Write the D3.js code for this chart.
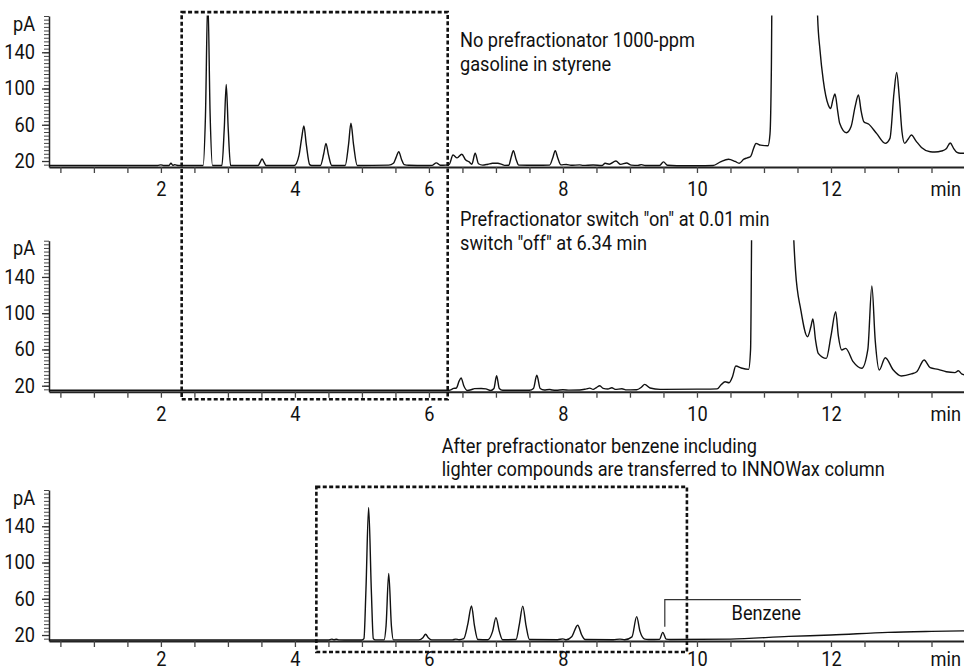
<!DOCTYPE html>
<html><head><meta charset="utf-8">
<script src="https://cdn.jsdelivr.net/npm/d3@7"></script>
<style>
body{margin:0;background:#fff}
text{font-family:Roboto,"Liberation Sans",sans-serif;fill:#111}
</style>
</head><body>
<svg id="chart" width="964" height="671"></svg>
<script>
// ---------- data (time in min, signal in pA) ----------
const xTickLabels = [2, 4, 6, 8, 10, 12];
const yTickLabels = [20, 60, 100, 140];

const trace1 = [[0.33,15],[1.95,15],[2.0,15.8],[2.04,15],[2.12,15],[2.15,17.5],[2.18,15.2],[2.2,16],[2.23,15.5],[2.26,15],
 [2.63,15],[2.665,70],[2.70,200],[2.735,70],[2.77,15],
 [2.91,15],[2.945,55],[2.975,104.6],[3.005,55],[3.04,15],
 [3.45,15],[3.48,18.5],[3.51,22.2],[3.54,18.5],[3.57,15],
 [3.99,15],[4.06,26],[4.10,45],[4.134,58.6],[4.17,38],[4.22,16],[4.25,15],
 [4.38,15],[4.43,28],[4.463,39.5],[4.50,27],[4.55,15],
 [4.75,15],[4.80,38],[4.836,61.6],[4.875,38],[4.93,15],
 [5.40,15.5],[5.47,17.5],[5.51,24],[5.55,30.3],[5.59,22],[5.63,16],[5.70,15.3],
 [5.95,15],[6.05,15.2],[6.11,18],[6.17,15.3],[6.25,15.5],
 [6.30,16],[6.36,26.6],[6.42,23.5],[6.49,27.4],[6.55,21],[6.60,19],[6.64,16.5],[6.69,28.5],[6.74,17],[6.80,15.5],
 [6.88,16.5],[6.95,17.5],[7.03,17.5],[7.08,16.5],[7.13,15.2],
 [7.19,15.3],[7.23,25],[7.26,31.4],[7.30,22],[7.34,15.5],
 [7.60,15.3],[7.80,15.5],[7.85,24],[7.885,31.4],[7.92,24],[7.97,15.8],[8.05,16.2],[8.12,15.3],[8.25,15.7],[8.30,15.2],[8.45,15.6],
 [8.58,15],[8.63,17.5],[8.69,16.5],[8.79,20],[8.86,16.3],[8.95,17.8],[9.02,15.5],[9.12,15.2],[9.17,16],[9.23,15],
 [9.44,15],[9.50,19],[9.56,15.3],[9.70,14.8],[10.0,14.8],[10.24,15],[10.35,19],[10.47,21.9],[10.57,19.5],[10.63,17.5],
 [10.70,22],[10.75,23.5],[10.80,25],[10.85,35],[10.88,39.5],[10.95,37.5],[11.06,36.9],[11.09,50],[11.11,120],[11.13,300],
 [11.78,300],[11.80,180],[11.836,142.4],[11.885,109],[11.96,81.8],[11.995,78],[12.03,88],[12.06,93.9],[12.10,75],[12.13,61.6],
 [12.23,51.2],[12.30,58],[12.36,80],[12.41,92.8],[12.45,75],[12.49,63.4],[12.56,60.8],[12.68,50.5],[12.81,39.5],
 [12.88,45],[12.94,95],[12.98,117.6],[13.02,90],[13.06,52],[13.10,39.5],[13.15,44],[13.20,48.7],[13.27,42],[13.35,35],
 [13.48,30.3],[13.55,30],[13.65,31],[13.72,33.5],[13.78,39.9],[13.83,34],[13.88,29.5],[13.93,28.5],[14.0,28.5]];

const trace2 = [[0.33,15],[6.30,15],[6.37,17],[6.41,17.5],[6.45,25],[6.48,28.5],[6.52,20],[6.57,14.8],[6.63,15.5],[6.68,16.8],
 [6.78,17],[6.85,16.5],[6.92,14.8],[6.97,17],[7.01,31],[7.05,17],[7.10,15],[7.50,15],[7.56,17],[7.61,31.5],[7.66,17],
 [7.72,15.2],[7.80,15.8],[7.84,15.3],[7.90,15],[8.00,15.5],[8.10,15.1],[8.25,15.2],[8.35,16.5],[8.40,17.3],[8.45,16],
 [8.50,18],[8.55,20],[8.60,17],[8.67,16.3],[8.73,17.8],[8.78,16],[8.88,16.6],[8.95,15.4],[9.10,15.5],[9.17,18.3],
 [9.22,21.5],[9.30,17.5],[9.45,16],[10.0,16.2],[10.30,16.5],[10.36,21],[10.42,24.4],[10.48,23.3],[10.53,30],[10.58,41.7],
 [10.66,39.5],[10.77,38],[10.80,60],[10.83,300],[11.40,300],[11.44,190],[11.47,147.6],[11.55,103.5],[11.65,74],[11.70,85],
 [11.73,93.6],[11.77,70],[11.81,55.7],[11.93,50.2],[12.00,75],[12.07,101.6],[12.11,75],[12.16,59.4],[12.22,61.2],
 [12.33,46.5],[12.46,39.2],[12.55,60],[12.61,130],[12.66,70],[12.72,37.3],[12.81,50.9],[12.93,37.3],[13.05,30.7],
 [13.20,33],[13.28,35.4],[13.39,48.4],[13.48,39.9],[13.60,38],[13.72,35.4],[13.85,34.5],[13.90,36.5],[13.95,33],[14.0,31.8]];

const trace3 = [[0.33,14.5],[4.50,14.5],[4.55,15.5],[4.58,14.8],[4.62,15.3],[4.66,14.6],[5.00,14.5],[5.03,16],[5.06,70],
 [5.10,160.8],[5.14,70],[5.17,16],[5.20,14.6],[5.33,14.6],[5.36,30],[5.40,88],[5.44,30],[5.47,14.6],[5.85,14.6],[5.91,17],
 [5.95,20.8],[5.99,17],[6.04,14.6],[6.35,14.6],[6.40,15.5],[6.45,14.8],[6.52,16],[6.58,32],[6.635,52],[6.68,30],[6.73,15],
 [6.88,14.8],[6.95,24],[7.00,39.2],[7.05,24],[7.10,14.8],[7.30,15],[7.35,32],[7.40,51.9],[7.45,30],[7.50,15],[7.92,14.8],
 [8.00,15.8],[8.05,14.8],[8.13,18],[8.22,30.8],[8.28,20],[8.33,15],[8.75,14.8],[8.85,15.5],[8.92,14.8],[9.03,18],
 [9.10,40.3],[9.15,24],[9.22,15.5],[9.28,15],[9.44,15.2],[9.49,22.9],[9.54,15.5],[9.60,15],[10.5,15.5],[11.37,18.5],
 [12.0,20],[12.85,22.9],[13.5,24],[14.0,24.6]];

const traces = [trace1, trace2, trace3];
const notes = [
  ["No prefractionator 1000-ppm", "gasoline in styrene"],
  ["Prefractionator switch \"on\" at 0.01 min", "switch \"off\" at 6.34 min"],
  ["After prefractionator benzene including", "lighter compounds are transferred to INNOWax column"]
];
const benzene = {label: "Benzene", time: 9.52, peak: 29, top: 59, end: 11.55};
// dashed boxes: [tStart, tEnd, topPanel, topValue, bottomPanel, bottomValue]
const boxes = [[2.31, 6.28, 0, 184.3, 1, 5], [4.32, 9.85, 2, 183.5, 2, 1.3]];

// ---------- layout ----------
const svg = d3.select("#chart");
const bases = [167, 391.7, 641];
const labelPad = [9, 9, 5];
const x = d3.scaleLinear().domain([0.33, 14]).range([49, 965]);
const ys = bases.map(b => d3.scaleLinear().domain([13.4, 180]).range([b, b - 151]));
const line = d3.line().curve(d3.curveMonotoneX);

bases.forEach((b, i) => {
  const y = ys[i];
  const g = svg.append("g");
  // x axis
  const xa = g.append("g").attr("transform", `translate(0,${b})`)
    .call(d3.axisBottom(x).tickValues(d3.range(0.5, 14, 0.5)).tickSize(6).tickSizeOuter(0).tickPadding(labelPad[i])
      .tickFormat(d => xTickLabels.includes(d) ? d : ""));
  xa.selectAll("text").attr("font-size", 20).attr("fill", "#111");
  xa.select(".domain").attr("stroke", "#222").attr("stroke-width", 2);
  xa.selectAll(".tick line").attr("stroke", "#444").attr("stroke-width", 1.3);
  g.append("text").attr("x", 961).attr("y", b + 6 + labelPad[i]).attr("dy", "0.71em").attr("text-anchor", "end")
    .attr("font-size", 20).text("min");
  // y axis minor
  const ym = g.append("g").attr("transform", `translate(49,0)`)
    .call(d3.axisLeft(y).tickValues(d3.range(16, 181, 4)).tickSize(5).tickSizeOuter(0).tickFormat(""));
  ym.select(".domain").attr("stroke", "#222").attr("stroke-width", 1.5);
  ym.selectAll(".tick line").attr("stroke", "#444").attr("stroke-width", 1);
  // y axis major
  const yM = g.append("g").attr("transform", `translate(49,0)`)
    .call(d3.axisLeft(y).tickValues(yTickLabels).tickSize(7).tickSizeOuter(0).tickPadding(7));
  yM.select(".domain").remove();
  yM.selectAll(".tick line").attr("stroke", "#333").attr("stroke-width", 1.3);
  yM.selectAll("text").attr("font-size", 20).attr("fill", "#111");
  g.append("text").attr("x", 35).attr("y", y(171)).attr("dy", "0.32em").attr("text-anchor", "end")
    .attr("font-size", 20).text("pA");
  // trace
  svg.append("clipPath").attr("id", "clip" + i).append("rect")
    .attr("x", 49).attr("y", y(180.5)).attr("width", 916).attr("height", b - y(180.5));
  g.append("path").attr("clip-path", `url(#clip${i})`)
    .attr("d", line(traces[i].map(p => [x(p[0]), y(p[1])])))
    .attr("fill", "none").attr("stroke", "#111").attr("stroke-width", 1.4);
});

// notes
const noteLayout = [[460, 47, 24], [460, 226, 24], [441.7, 453, 22.5]];
notes.forEach((n, i) => {
  n.forEach((s, j) => {
    svg.append("text").attr("x", noteLayout[i][0]).attr("y", noteLayout[i][1] + j * noteLayout[i][2])
      .attr("font-size", 20).text(s);
  });
});

// dashed boxes
boxes.forEach(bx => {
  const x0 = x(bx[0]), x1 = x(bx[1]);
  const y0 = ys[bx[2]](bx[3]), y1 = ys[bx[4]](bx[5]);
  svg.append("rect").attr("x", x0).attr("y", y0).attr("width", x1 - x0).attr("height", y1 - y0)
    .attr("fill", "none").attr("stroke", "#111").attr("stroke-width", 2.6).attr("stroke-dasharray", "4,2.4");
});

// benzene label
const y3 = ys[2];
svg.append("path").attr("d", `M${x(benzene.time)},${y3(benzene.peak)}V${y3(benzene.top)}H${x(benzene.end)}`)
  .attr("fill", "none").attr("stroke", "#333").attr("stroke-width", 1.2);
svg.append("text").attr("x", x(benzene.end)).attr("y", y3(44.6)).attr("dy", "0.35em").attr("text-anchor", "end")
  .attr("font-size", 20).text(benzene.label);

// emulate the condensed face of the original: compress every label horizontally
const probe = svg.append("text").attr("font-size", 20).text(notes[0][0]);
const k = 235 / probe.node().getComputedTextLength();
probe.remove();
svg.selectAll("text").each(function () {
  const w = this.getComputedTextLength();
  if (w > 0) d3.select(this).attr("textLength", w * k).attr("lengthAdjust", "spacingAndGlyphs");
});
</script>
</body></html>
